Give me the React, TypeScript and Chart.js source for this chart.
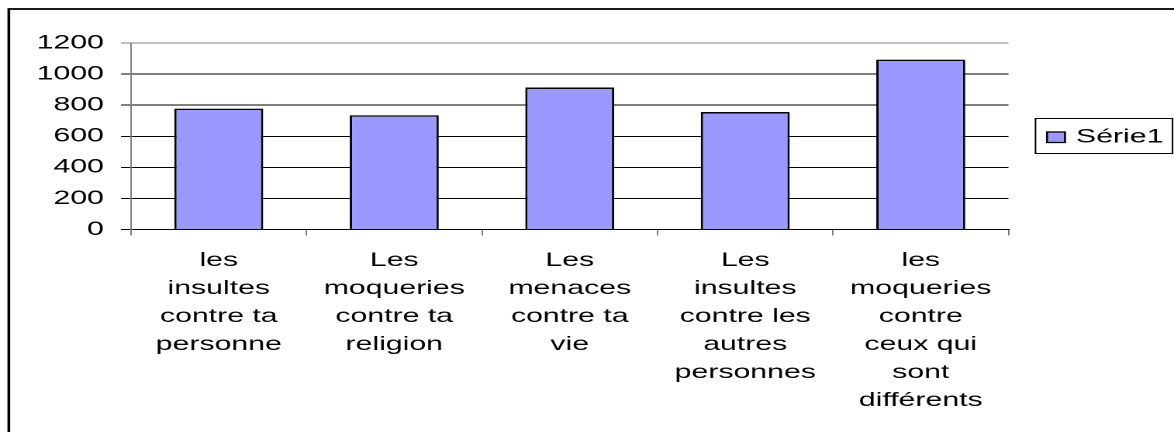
import React, { useEffect, useRef } from "react";
import { Chart, registerables } from "chart.js";

Chart.register(...registerables);

// ---- data ----
const categories: string[][] = [
  ["les", "insultes", "contre ta", "personne"],
  ["Les", "moqueries", "contre ta", "religion"],
  ["Les", "menaces", "contre ta", "vie"],
  ["Les", "insultes", "contre les", "autres", "personnes"],
  ["les", "moqueries", "contre", "ceux qui", "sont", "différents"],
];
const seriesName = "Série1";
const seriesValues: number[] = [778, 735, 914, 756, 1093];
const yTickValues: number[] = [0, 200, 400, 600, 800, 1000, 1200];

// ---- layout (the reference is horizontally stretched) ----
const W = 757;
const H = 432;
const SX = 1174 / W;
const FONT = '"Liberation Sans", Arial, sans-serif';
const FONT_SIZE = 19.5;
const BAR_FILL = "#9999FF";

const framePlugin = {
  id: "frameAndLegend",
  afterDraw(chart: any) {
    const ctx = chart.ctx as CanvasRenderingContext2D;
    ctx.save();
    // outer frame (only left/top visible)
    ctx.strokeStyle = "#000";
    ctx.lineWidth = 1.8;
    ctx.strokeRect(8.8 / SX, 9, 3000, 3000);

    // legend
    const ds = chart.data.datasets[0];
    const lx = 1035.5 / SX;
    const ly = 118.5;
    const lw = (1172.5 - 1035.5) / SX;
    const lh = 35;
    ctx.fillStyle = "#fff";
    ctx.fillRect(lx, ly, lw, lh);
    ctx.lineWidth = 1;
    ctx.strokeStyle = "#000";
    ctx.strokeRect(lx, ly, lw, lh);

    ctx.fillStyle = ds.backgroundColor;
    const sx0 = 1047 / SX;
    const sw = 18 / SX;
    ctx.fillRect(sx0, 132, sw, 10.5);
    ctx.lineWidth = 1.3;
    ctx.strokeRect(sx0, 132, sw, 10.5);

    ctx.fillStyle = "#000";
    ctx.font = `${FONT_SIZE}px ${FONT}`;
    ctx.textBaseline = "alphabetic";
    ctx.textAlign = "left";
    ctx.fillText(ds.label, 1076 / SX, 142.5);
    ctx.restore();
  },
};

export default function App() {
  const ref = useRef<HTMLCanvasElement | null>(null);

  useEffect(() => {
    if (!ref.current) return;
    const chart = new Chart(ref.current, {
      type: "bar",
      data: {
        labels: categories,
        datasets: [
          {
            label: seriesName,
            data: seriesValues,
            backgroundColor: BAR_FILL,
            borderColor: "#000",
            borderWidth: 1.5,
            barPercentage: 0.507,
            categoryPercentage: 1,
          },
        ],
      },
      options: {
        animation: false,
        responsive: false,
        devicePixelRatio: 2,
        layout: { padding: { top: 43, right: W - 1008.5 / SX, left: 0, bottom: 0 } },
        plugins: {
          legend: { display: false },
          tooltip: { enabled: false },
        },
        scales: {
          x: {
            offset: true,
            grid: {
              offset: true,
              drawOnChartArea: false,
              drawTicks: true,
              tickLength: 6,
              color: "#808080",
              lineWidth: 1,
            },
            border: { display: true, color: "#000", width: 1 },
            ticks: {
              autoSkip: false,
              maxRotation: 0,
              minRotation: 0,
              padding: 11,
              color: "#000",
              font: { family: FONT, size: FONT_SIZE, lineHeight: 28 / FONT_SIZE },
            },
            afterFit(scale: any) {
              scale.height = H - 229.5;
            },
          },
          y: {
            min: 0,
            max: 1200,
            afterBuildTicks(scale: any) {
              scale.ticks = yTickValues.map((v) => ({ value: v }));
            },
            grid: {
              drawTicks: true,
              tickLength: 10 / SX,
              lineWidth: 1,
              color: (c: any) => (c.tick && c.tick.value === 1200 ? "#808080" : "#000"),
            },
            border: { display: true, color: "#808080", width: 1 },
            ticks: {
              padding: 11,
              color: "#000",
              font: { family: FONT, size: FONT_SIZE },
              callback: (v: any) => String(v),
            },
            afterFit(scale: any) {
              scale.width = 131 / SX;
            },
          },
        },
      },
      plugins: [framePlugin],
    });
    return () => chart.destroy();
  }, []);

  return (
    <div
      style={{
        position: "fixed",
        left: 0,
        top: 0,
        width: 1174,
        height: 432,
        background: "#fff",
        overflow: "hidden",
      }}
    >
      <canvas
        ref={ref}
        width={W}
        height={H}
        style={{ width: "1174px", height: "432px", display: "block" }}
      />
    </div>
  );
}
